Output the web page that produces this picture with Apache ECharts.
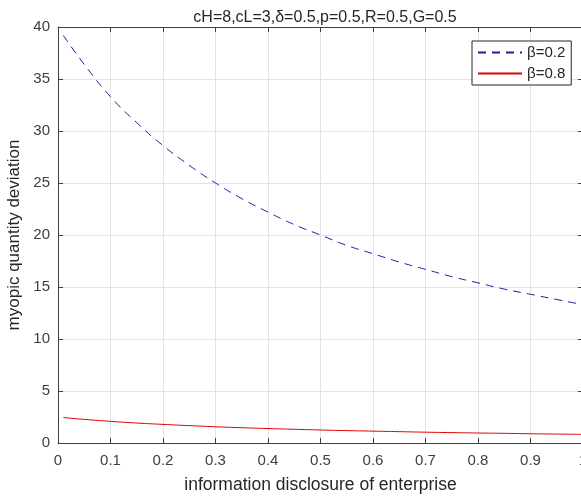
<!DOCTYPE html>
<html>
<head>
<meta charset="utf-8">
<script src="https://cdn.jsdelivr.net/npm/echarts@6/dist/echarts.min.js"></script>
<style>
  html, body { margin: 0; padding: 0; background: #fff; }
  #chart { width: 581px; height: 496px; }
</style>
</head>
<body>
<div id="chart"></div>
<script>
// information disclosure of enterprise (x)
const disclosure = [0.01, 0.05, 0.1, 0.15, 0.2, 0.25, 0.3, 0.35, 0.4, 0.45, 0.5,
  0.55, 0.6, 0.65, 0.7, 0.75, 0.8, 0.85, 0.9, 0.95, 1.0]
// beta = 0.2 (dashed blue)
const beta02 = [39.2, 36.4, 33.3, 30.8, 28.6, 26.7, 25.0, 23.5, 22.2, 21.0, 20.0,
  19.0, 18.2, 17.4, 16.7, 16.0, 15.4, 14.8, 14.3, 13.8, 13.3]
// beta = 0.8 (solid red)
const beta08 = [2.45, 2.27, 2.08, 1.92, 1.79, 1.67, 1.56, 1.47, 1.39, 1.32, 1.25,
  1.19, 1.14, 1.09, 1.04, 1.0, 0.96, 0.93, 0.89, 0.86, 0.83]
const seriesNames = ['β=0.2', 'β=0.8']
const titleText = 'cH=8,cL=3,δ=0.5,p=0.5,R=0.5,G=0.5'

const axisColor = '#404040'
const textColor = '#262626'
const blue = '#1c1ca0'
const red = '#e00000'
const font = 'Liberation Sans, Arial, sans-serif'

const pair = (xs, ys) => xs.map((x, i) => [x, ys[i]])

const chart = echarts.init(document.getElementById('chart'))
const option = {
  animation: false,
  title: {
    text: titleText,
    left: 320,
    top: 5,
    textAlign: 'center',
    textStyle: { fontFamily: font, fontSize: 16, fontWeight: 'normal', color: textColor }
  },
  legend: {
    data: seriesNames,
    orient: 'vertical',
    left: 472,
    top: 41,
    padding: [4, 6, 4, 5],
    itemGap: 6,
    itemWidth: 44,
    itemHeight: 15,
    itemStyle: { opacity: 0 },
    backgroundColor: '#fff',
    borderColor: textColor,
    borderWidth: 1,
    textStyle: { fontFamily: font, fontSize: 15, color: textColor }
  },
  grid: { left: 58, right: -2, top: 27, bottom: 53, outerBoundsMode: 'none', containLabel: false },
  xAxis: [
    {
      type: 'value',
      min: 0,
      max: 1,
      interval: 0.1,
      name: 'information disclosure of enterprise',
      nameLocation: 'middle',
      nameGap: 33,
      nameTextStyle: { fontFamily: font, fontSize: 17.5, color: textColor },
      axisLine: { onZero: false, lineStyle: { color: axisColor } },
      axisTick: { inside: true, length: 5, lineStyle: { color: axisColor } },
      axisLabel: {
        margin: 10,
        fontFamily: font, fontSize: 15, color: axisColor,
        formatter: v => (v === 0 || v === 1) ? String(v) : v.toFixed(1)
      },
      splitLine: { show: true, lineStyle: { color: '#e3e3e3' } }
    },
    {
      type: 'value',
      position: 'top',
      min: 0,
      max: 1,
      interval: 0.1,
      axisLine: { onZero: false, lineStyle: { color: axisColor } },
      axisTick: { inside: true, length: 5, lineStyle: { color: axisColor } },
      axisLabel: { show: false },
      splitLine: { show: false }
    }
  ],
  yAxis: [
    {
      type: 'value',
      min: 0,
      max: 40,
      interval: 5,
      name: 'myopic quantity deviation',
      nameLocation: 'middle',
      nameGap: 26,
      nameTextStyle: { fontFamily: font, fontSize: 17, color: textColor },
      axisLine: { show: true, onZero: false, lineStyle: { color: axisColor } },
      axisTick: { show: true, inside: true, length: 5, lineStyle: { color: axisColor } },
      axisLabel: { margin: 8, fontFamily: font, fontSize: 15, color: axisColor },
      splitLine: { show: true, lineStyle: { color: '#e3e3e3' } }
    },
    {
      type: 'value',
      position: 'right',
      min: 0,
      max: 40,
      interval: 5,
      axisLine: { show: true, onZero: false, lineStyle: { color: axisColor } },
      axisTick: { show: true, inside: true, length: 5, lineStyle: { color: axisColor } },
      axisLabel: { show: false },
      splitLine: { show: false }
    }
  ],
  series: [
    {
      name: seriesNames[0],
      type: 'line',
      data: pair(disclosure, beta02),
      smooth: true,
      symbol: 'none',
      color: blue,
      lineStyle: { width: 1, type: [8, 6], color: blue }
    },
    {
      name: seriesNames[1],
      type: 'line',
      data: pair(disclosure, beta08),
      smooth: true,
      symbol: 'none',
      color: red,
      lineStyle: { width: 1, color: red }
    }
  ]
}
chart.setOption(option)
window.addEventListener('resize', () => {
  chart?.resize()
})
</script>
</body>
</html>
